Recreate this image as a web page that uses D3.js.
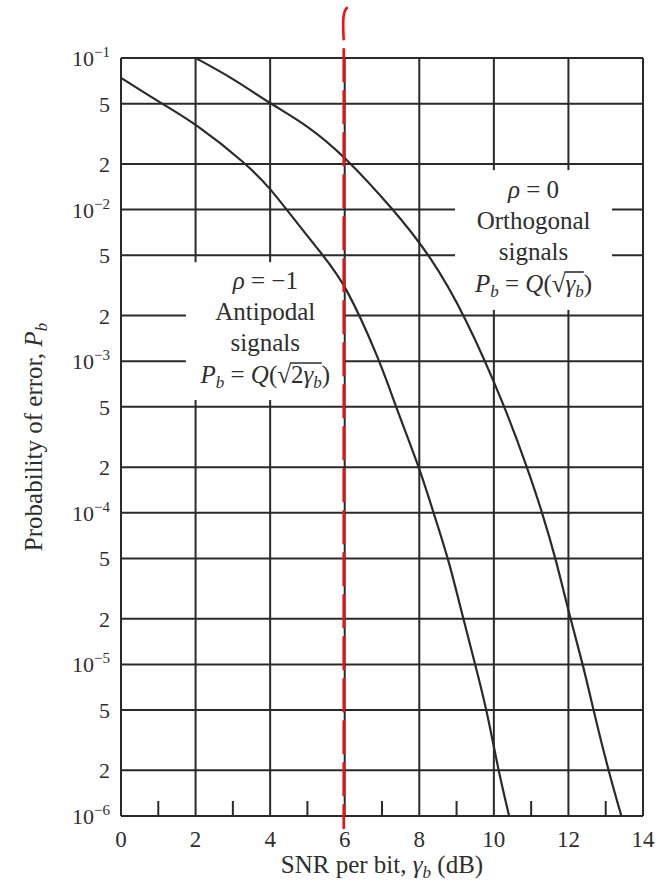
<!DOCTYPE html>
<html><head><meta charset="utf-8">
<script src="https://cdn.jsdelivr.net/npm/d3@7"></script>
<style>
body{margin:0;background:#fff}
svg text{font-family:"Liberation Serif","Times New Roman",serif;fill:#2e2e2e}
</style>
</head><body>
<svg id="chart" width="664" height="883"></svg>
<script>
// ---- data ----
const antipodalSnrDb = [0, 1.09, 2, 3.37, 4, 4.44, 5.41, 6, 6.95, 7.37, 8, 8.38, 8.78, 9.18, 9.5, 9.81, 10.12, 10.41];
const antipodalPb    = [0.074, 0.05, 0.037, 0.02, 0.0138, 0.01, 0.005, 0.0033, 0.001, 5e-4, 2e-4, 1e-4, 5e-5, 2e-5, 1e-5, 5e-6, 2e-6, 1e-6];
const orthogonalSnrDb = [2, 3, 4, 5, 6, 7.31, 8.29, 9.23, 10.3, 10.89, 11.3, 11.66, 12.05, 12.39, 12.67, 13.07, 13.42];
const orthogonalPb    = [0.1, 0.0735, 0.05, 0.036, 0.0225, 0.01, 0.005, 0.002, 5e-4, 2e-4, 1e-4, 5e-5, 2e-5, 1e-5, 5e-6, 2e-6, 1e-6];
const xTickValues = [0, 2, 4, 6, 8, 10, 12, 14];
const xMinorTickValues = [1, 3, 5, 7, 9, 11, 13];
const yGridValues = [1e-1, 5e-2, 2e-2, 1e-2, 5e-3, 2e-3, 1e-3, 5e-4, 2e-4, 1e-4, 5e-5, 2e-5, 1e-5, 5e-6, 2e-6, 1e-6];
const yTickLabels = ["10^−1", "5", "2", "10^−2", "5", "2", "10^−3", "5", "2", "10^−4", "5", "2", "10^−5", "5", "2", "10^−6"];
const markedSnrDb = 6;

// ---- layout ----
const svg = d3.select("#chart");
const x = d3.scaleLinear().domain([0, 14]).range([121, 643]);
const y = d3.scaleLog().domain([1e-6, 1e-1]).range([816, 58]);
const ink = "#2a2a2a";
const lw = 2;

// grid
const g = svg.append("g");
g.selectAll("line.v").data(xTickValues).join("line")
  .attr("x1", d => x(d)).attr("x2", d => x(d))
  .attr("y1", y(1e-1)).attr("y2", y(1e-6))
  .attr("stroke", ink).attr("stroke-width", lw);
g.selectAll("line.h").data(yGridValues).join("line")
  .attr("x1", x(0)).attr("x2", x(14))
  .attr("y1", d => y(d)).attr("y2", d => y(d))
  .attr("stroke", ink).attr("stroke-width", lw);
g.selectAll("line.m").data(xMinorTickValues).join("line")
  .attr("x1", d => x(d)).attr("x2", d => x(d))
  .attr("y1", y(1e-6)).attr("y2", y(1e-6) - 15)
  .attr("stroke", ink).attr("stroke-width", lw);

// white label boxes that interrupt the grid
const boxA = {x0: 1.74, x1: markedSnrDb, y0: 4.5e-3, y1: 5.55e-4};
const boxO = {x0: 8.96, x1: 13.17, y0: 1.82e-2, y1: 2.18e-3};
[boxA, boxO].forEach((b, i) => {
  const xr = i === 0 ? x(b.x1) - 1.6 : x(b.x1);
  svg.append("rect").attr("x", x(b.x0)).attr("y", y(b.y0))
    .attr("width", xr - x(b.x0)).attr("height", y(b.y1) - y(b.y0))
    .attr("fill", "#fff");
});

// curves
const line = d3.line().x(d => x(d[0])).y(d => y(d[1])).curve(d3.curveBasis);
svg.append("path").datum(d3.zip(antipodalSnrDb, antipodalPb))
  .attr("d", line).attr("fill", "none").attr("stroke", ink).attr("stroke-width", 2.2);
svg.append("path").datum(d3.zip(orthogonalSnrDb, orthogonalPb))
  .attr("d", line).attr("fill", "none").attr("stroke", ink).attr("stroke-width", 2.2);

// y tick labels
yGridValues.forEach((v, i) => {
  const lab = yTickLabels[i];
  const t = svg.append("text").attr("x", 110).attr("y", y(v) + 8)
    .attr("text-anchor", "end").attr("font-size", 22);
  if (lab.includes("^")) {
    const [base, sup] = lab.split("^");
    t.append("tspan").text(base);
    t.append("tspan").attr("font-size", 15).attr("dy", -9).text(sup);
  } else {
    t.text(lab);
  }
});

// x tick labels
svg.selectAll("text.xt").data(xTickValues).join("text")
  .attr("x", d => x(d)).attr("y", 847).attr("text-anchor", "middle")
  .attr("font-size", 23).text(d => d);

// x title
const xt = svg.append("text").attr("x", (x(0) + x(14)) / 2).attr("y", 873)
  .attr("text-anchor", "middle").attr("font-size", 25);
xt.append("tspan").text("SNR per bit, ");
xt.append("tspan").attr("font-style", "italic").text("γ");
xt.append("tspan").attr("font-style", "italic").attr("font-size", 17).attr("dy", 5).text("b");
xt.append("tspan").attr("dy", -5).text(" (dB)");

// y title
const yt = svg.append("text")
  .attr("transform", `translate(42,${(y(1e-1) + y(1e-6)) / 2}) rotate(-90)`)
  .attr("text-anchor", "middle").attr("font-size", 25);
yt.append("tspan").text("Probability of error, ");
yt.append("tspan").attr("font-style", "italic").text("P");
yt.append("tspan").attr("font-style", "italic").attr("font-size", 17).attr("dy", 5).text("b");

// annotations
function label(b, baseY, rho, name, inside) {
  const cx = (x(b.x0) + x(b.x1)) / 2;
  const fs = 25, lh = 31;
  const t1 = svg.append("text").attr("x", cx).attr("y", baseY).attr("text-anchor", "middle").attr("font-size", fs);
  t1.append("tspan").attr("font-style", "italic").text("ρ");
  t1.append("tspan").text(" = " + rho);
  svg.append("text").attr("x", cx).attr("y", baseY + lh).attr("text-anchor", "middle").attr("font-size", fs).text(name);
  svg.append("text").attr("x", cx).attr("y", baseY + 2 * lh).attr("text-anchor", "middle").attr("font-size", fs).text("signals");
  const f = svg.append("text").attr("x", cx).attr("y", baseY + 3 * lh + 1).attr("text-anchor", "middle").attr("font-size", fs);
  f.append("tspan").attr("font-style", "italic").text("P");
  f.append("tspan").attr("font-style", "italic").attr("font-size", 17).attr("dy", 5).text("b");
  f.append("tspan").attr("dy", -5).text(" = ");
  f.append("tspan").attr("font-style", "italic").text("Q");
  f.append("tspan").text("(√");
  inside.forEach(p => {
    const s = f.append("tspan").text(p.t);
    if (p.it) s.attr("font-style", "italic");
  });
  f.append("tspan").attr("font-style", "italic").attr("font-size", 17).attr("dy", 5).text("b");
  f.append("tspan").attr("dy", -5).text(")");
  // overline of the radical
  const node = f.node();
  const str = node.textContent;
  const iRad = str.indexOf("√");
  const iClose = str.lastIndexOf(")");
  const er = node.getExtentOfChar(iRad);
  const ec = node.getExtentOfChar(iClose);
  const oy = baseY + 3 * lh + 1 - fs * 0.8;
  svg.append("line").attr("x1", er.x + er.width - 1).attr("x2", ec.x)
    .attr("y1", oy).attr("y2", oy).attr("stroke", "#2e2e2e").attr("stroke-width", 1.6);
}
label(boxA, 289, "−1", "Antipodal", [{t: "2"}, {t: "γ", it: true}]);
label(boxO, 198, "0", "Orthogonal", [{t: "γ", it: true}]);

// red hand-drawn dashed marker at 6 dB
const mx = x(markedSnrDb) - 1;
const redPath = d3.path();
redPath.moveTo(mx + 3, 8);
redPath.bezierCurveTo(mx - 1, 12, mx - 1, 22, mx, 40);
redPath.lineTo(mx, 828);
svg.append("path").attr("d", redPath.toString()).attr("fill", "none")
  .attr("stroke", "#f01010").attr("stroke-width", 2.6)
  .attr("stroke-dasharray", "32,10").attr("stroke-linecap", "round");
</script>
</body></html>
